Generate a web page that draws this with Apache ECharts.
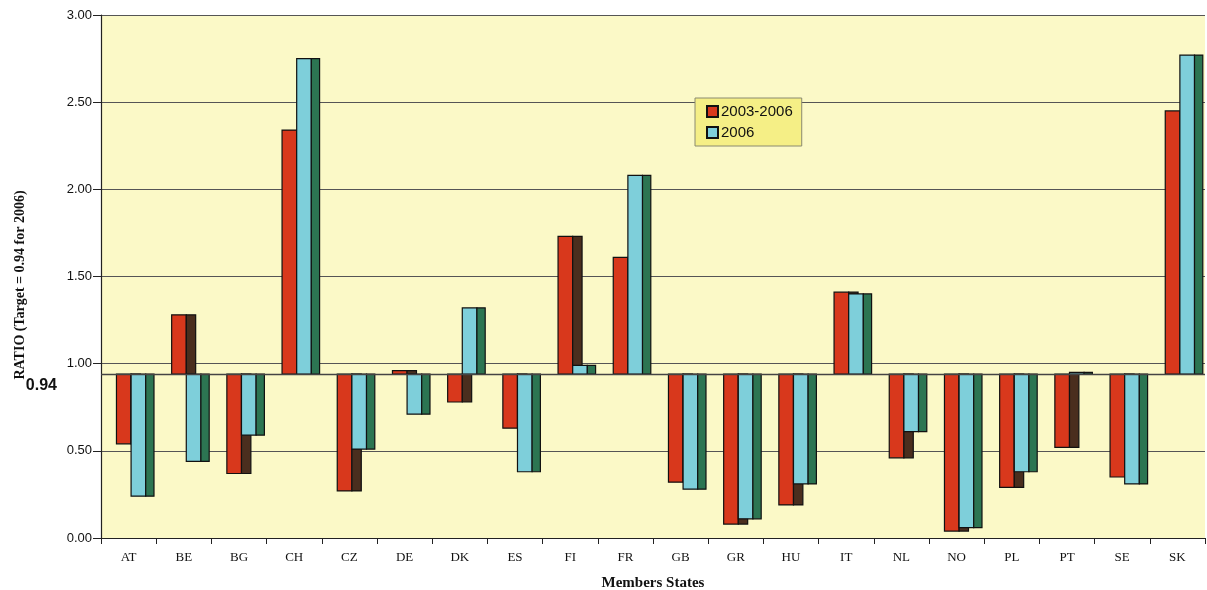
<!DOCTYPE html>
<html>
<head>
<meta charset="utf-8">
<script src="https://cdn.jsdelivr.net/npm/echarts@6/dist/echarts.min.js"></script>
<style>
html,body{margin:0;padding:0;background:#fff;}
#chart{width:1207px;height:590px;}
</style>
</head>
<body>
<div id="chart"></div>
<script>
const categories = ['AT','BE','BG','CH','CZ','DE','DK','ES','FI','FR','GB','GR','HU','IT','NL','NO','PL','PT','SE','SK'];
const ratio2003_2006 = [0.54,1.28,0.37,2.34,0.27,0.96,0.78,0.63,1.73,1.61,0.32,0.08,0.19,1.41,0.46,0.04,0.29,0.52,0.35,2.45];
const ratio2006 = [0.24,0.44,0.59,2.75,0.51,0.71,1.32,0.38,0.99,2.08,0.28,0.11,0.31,1.40,0.61,0.06,0.38,0.95,0.31,2.77];
const target = 0.94;
const yTicks = [0, 0.5, 1, 1.5, 2, 2.5, 3];

const SERIF = "'Liberation Serif','Times New Roman',serif";
const SANS = "'Liberation Sans',Arial,sans-serif";

function makeRender(offset, frontW, sideW, front, side) {
  return function (params, api) {
    const i = api.value(0), v = api.value(1);
    const p0 = api.coord([i, target]);
    const p1 = api.coord([i, v]);
    const w = api.size([1, 0])[0];
    const x = p0[0] + offset * w;
    const top = Math.min(p0[1], p1[1]);
    const h = Math.abs(p1[1] - p0[1]);
    return {
      type: 'group',
      children: [
        {type: 'rect', shape: {x: x, y: top, width: frontW * w, height: h},
         style: {fill: front, stroke: '#111', lineWidth: 1.2}},
        {type: 'rect', shape: {x: x + frontW * w, y: top, width: sideW * w, height: h},
         style: {fill: side, stroke: '#111', lineWidth: 1.2}}
      ]
    };
  };
}

const chart = echarts.init(document.getElementById('chart'));
chart.setOption({
  animation: false,
  backgroundColor: '#ffffff',
  grid: {left: 101, right: 2, top: 15, bottom: 52, show: true, backgroundColor: '#fbf9c7', borderWidth: 0,
    containLabel: false, outerBoundsMode: 'none'},
  legend: {
    left: 695, top: 98, orient: 'vertical',
    backgroundColor: '#f5ef86', borderColor: '#8a8a70', borderWidth: 1,
    padding: [6, 9, 6, 11], itemGap: 6, itemWidth: 11, itemHeight: 11,
    icon: 'rect',
    textStyle: {fontFamily: SANS, fontSize: 15, color: '#111', padding: [0, 0, 0, -2]},
    data: ['2003-2006', '2006']
  },
  xAxis: {
    type: 'category', data: categories, boundaryGap: true,
    name: 'Members States', nameLocation: 'middle', nameGap: 38,
    nameTextStyle: {fontFamily: SERIF, fontWeight: 'bold', fontSize: 15, color: '#111'},
    axisLine: {lineStyle: {color: '#222', width: 1.2}},
    axisTick: {show: true, alignWithLabel: false, length: 6, lineStyle: {color: '#222'}},
    axisLabel: {fontFamily: SERIF, fontSize: 13, color: '#111', margin: 13}
  },
  yAxis: {
    type: 'value', min: yTicks[0], max: yTicks[yTicks.length - 1], interval: 0.5,
    axisLine: {show: true, lineStyle: {color: '#222', width: 1.2}},
    axisTick: {show: true, length: 8, lineStyle: {color: '#222'}},
    axisLabel: {fontFamily: SANS, fontSize: 13, color: '#111', margin: 9,
      formatter: v => v.toFixed(2)},
    splitLine: {show: true, lineStyle: {color: '#555', width: 1}}
  },
  graphic: [
    {type: 'text', x: 20, y: 285, rotation: Math.PI / 2,
     style: {text: 'RATIO (Target = 0.94 for 2006)', fontFamily: SERIF, fontWeight: 'bold',
       fontSize: 14, fill: '#111', align: 'center', verticalAlign: 'middle'}},
    {type: 'text', x: 57, y: 386,
     style: {text: '0.94', fontFamily: SANS, fontWeight: 'bold',
       fontSize: 16, fill: '#111', align: 'right', verticalAlign: 'middle'}}
  ],
  series: [
    {
      name: '2003-2006', type: 'custom', z: 2,
      itemStyle: {color: '#d8381c', borderColor: '#111', borderWidth: 1},
      renderItem: makeRender(-0.22, 0.265, 0.17, '#d8381c', '#4a2e1e'),
      encode: {x: 0, y: 1},
      data: categories.map((c, i) => [i, ratio2003_2006[i]]),
      markLine: {
        silent: true, symbol: 'none',
        lineStyle: {color: '#444', width: 1.3, type: 'solid'},
        label: {show: false},
        data: [{yAxis: target}]
      }
    },
    {
      name: '2006', type: 'custom', z: 3,
      itemStyle: {color: '#7ecfda', borderColor: '#111', borderWidth: 1},
      renderItem: makeRender(0.045, 0.265, 0.15, '#7ecfda', '#2c7552'),
      encode: {x: 0, y: 1},
      data: categories.map((c, i) => [i, ratio2006[i]])
    }
  ]
});
</script>
</body>
</html>
